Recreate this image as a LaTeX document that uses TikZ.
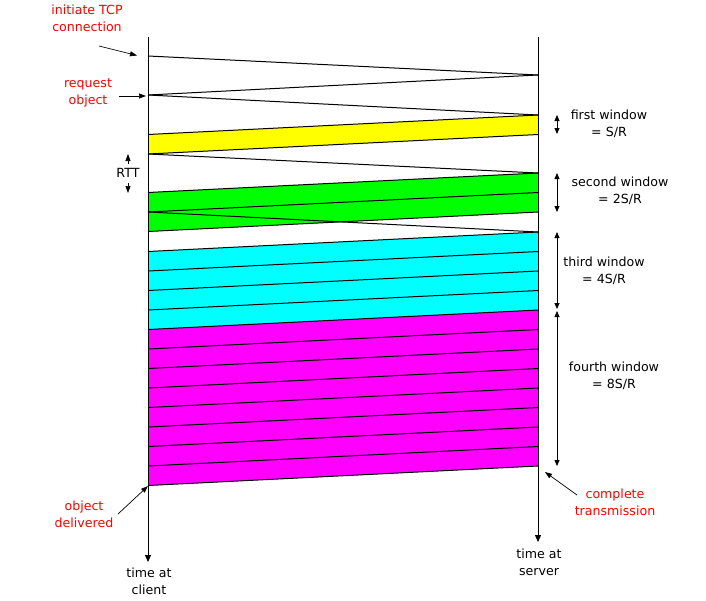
\documentclass[tikz,border=0pt]{standalone}
\usepackage{fontspec}
\setmainfont{DejaVu Sans}
\usetikzlibrary{arrows.meta}
\definecolor{yl}{RGB}{255,255,0}
\definecolor{gr}{RGB}{0,255,0}
\definecolor{cy}{RGB}{0,255,255}
\definecolor{mg}{RGB}{255,0,255}
\definecolor{rd}{RGB}{255,0,0}
\begin{document}
\begin{tikzpicture}[x=1pt,y=-1pt,
  pkt/.style={black,line width=1pt},
  axis/.style={black,line width=1pt,-{Triangle[length=7pt,width=6pt]}},
  note/.style={black,line width=0.7pt,-{Triangle[length=7pt,width=5pt]}},
  span/.style={black,line width=0.8pt,{Triangle[length=6pt,width=5pt]}-{Triangle[length=6pt,width=5pt]}},
  lbl/.style={font=\fontsize{12.6}{17}\selectfont,align=center,inner sep=0pt},
  rlbl/.style={lbl,text=rd}]
\useasboundingbox (0,0) rectangle (706,600);
\def\cx{148}\def\sx{538}\def\d{19.5}
% coloured windows
\fill[yl] (\cx,134.5) -- (\sx,115) -- (\sx,134.5) -- (\cx,154) -- cycle;
\fill[gr] (\cx,192.5) -- (\sx,173) -- (\sx,212) -- (\cx,231.5) -- cycle;
\fill[cy] (\cx,251.5) -- (\sx,232) -- (\sx,310) -- (\cx,329.5) -- cycle;
\fill[mg] (\cx,329.5) -- (\sx,310) -- (\sx,466) -- (\cx,485.5) -- cycle;
% data packet edges (server -> client)
\foreach \s in {115,134.5} \draw[pkt] (\sx,\s) -- (\cx,\s+\d);
\foreach \s in {173,192.5,212} \draw[pkt] (\sx,\s) -- (\cx,\s+\d);
\foreach \k in {0,...,4} \draw[pkt] (\sx,232+\k*\d) -- (\cx,251.5+\k*\d);
\foreach \k in {1,...,8} \draw[pkt] (\sx,310+\k*\d) -- (\cx,329.5+\k*\d);
% handshake and acks
\coordinate (syn) at (\cx,56);
\coordinate (req) at (\cx,95);
\coordinate (deliv) at (\cx,486);
\coordinate (done) at (545,472);
\draw[pkt] (syn) -- (\sx,75);
\draw[pkt] (\sx,75) -- (req);
\draw[pkt] (req) -- (\sx,115);
\draw[pkt] (\cx,154) -- (\sx,173);
\draw[pkt] (\cx,212) -- (\sx,232);
% time axes
\coordinate (c0) at (\cx,37); \coordinate (c1) at (\cx,562);
\coordinate (s0) at (\sx,37); \coordinate (s1) at (\sx,542);
\draw[axis] (c0) -- (c1);
\draw[axis] (s0) -- (s1);
% window spans
\draw[span] (557,115) -- (557,134);
\draw[span] (557,173) -- (557,212);
\draw[span] (557,232) -- (557,309);
\draw[span] (557,311) -- (557,466);
% RTT
\draw[note] (128,164) -- (128,154);
\draw[note] (128,183) -- (128,193);
\node[lbl] (rtt) at (128,173) {RTT};
% labels
\node[lbl] (w1) at (609,124) {first window\\= S/R};
\node[lbl] (w2) at (620,191) {second window\\= 2S/R};
\node[lbl] (w3) at (604,271) {third window\\= 4S/R};
\node[lbl] (w4) at (614,376) {fourth window\\= 8S/R};
\node[lbl] (tc) at (149,581) {time at\\client};
\node[lbl] (ts) at (539,562) {time at\\server};
\node[rlbl] (itcp) at (87,18) {initiate TCP\\connection};
\node[rlbl] (robj) at (88,93) {request\\object};
\node[rlbl] (odel) at (84,514) {object\\delivered};
\node[rlbl] (ctx) at (615,502) {complete\\transmission};
% annotation arrows
\coordinate (a1) at (99,46);
\coordinate (a2) at (119,96);
\coordinate (a3) at (118,514);
\coordinate (a4) at (577,495);
\draw[note] (a1) -- (137,55.5);
\draw[note] (a2) -- (146,96);
\draw[note] (a3) -- (deliv);
\draw[note] (a4) -- (done);
\end{tikzpicture}
\end{document}
